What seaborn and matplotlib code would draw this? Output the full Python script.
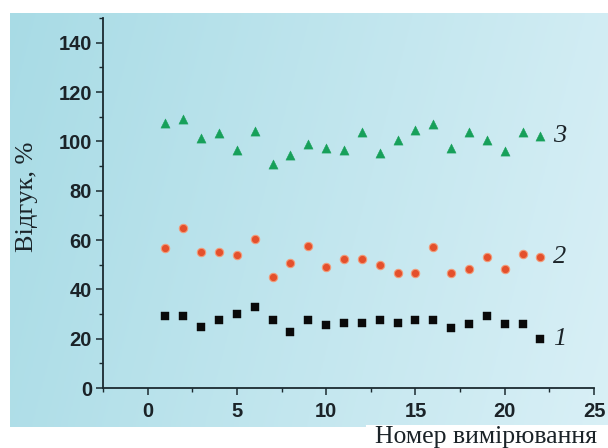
import numpy as np
import pandas as pd
import matplotlib
matplotlib.use("Agg")
import matplotlib.pyplot as plt
import seaborn as sns
from matplotlib.ticker import MultipleLocator

# ---- data ----
x = list(range(1, 23))
series1 = [29.2, 29.2, 24.9, 27.5, 30.0, 32.9, 27.5, 22.9, 27.5, 25.6, 26.5,
           26.5, 27.5, 26.5, 27.5, 27.5, 24.5, 26.1, 29.2, 26.1, 26.1, 19.8]
series2 = [56.8, 64.8, 55.1, 55.1, 54.1, 60.3, 45.2, 50.6, 57.6, 49.2, 52.2,
           52.2, 49.9, 46.7, 46.7, 57.3, 46.7, 48.3, 53.0, 48.3, 54.5, 53.0]
series3 = [107.4, 109.2, 101.3, 103.3, 96.3, 104.3, 90.9, 94.3, 98.9, 97.3, 96.3,
           103.7, 95.2, 100.4, 104.4, 107.0, 97.3, 103.7, 100.6, 95.9, 103.7, 102.3]
series_labels = ["1", "2", "3"]
x_ticks = [0, 5, 10, 15, 20, 25]
y_ticks = [0, 20, 40, 60, 80, 100, 120, 140]
y_label = "Відгук, %"
x_label = "Номер вимірювання"

df = pd.DataFrame({"x": x, "s1": series1, "s2": series2, "s3": series3})

sns.set_style("ticks")
plt.rcParams["font.family"] = ["Liberation Sans", "DejaVu Sans"]

W, H = 608, 448
fig = plt.figure(figsize=(W / 100, H / 100), dpi=100)
fig.patch.set_facecolor("white")

# background panel with gradient
bg = fig.add_axes([10 / W, 1 - 427 / H, (W - 10) / W, (427 - 13) / H])
bg.set_axis_off()
gx = np.linspace(0, 1, 256)
gy = np.linspace(0, 1, 64)
GX, GY = np.meshgrid(gx, gy)
c_left = np.array([0.66, 0.86, 0.90])
c_right = np.array([0.85, 0.94, 0.965])
t = np.clip(GX * 0.85 + GY * 0.15, 0, 1)[..., None]
img = c_left * (1 - t) + c_right * t
bg.imshow(img, aspect="auto", extent=[0, 1, 0, 1], origin="upper")
bg.set_xlim(0, 1)
bg.set_ylim(0, 1)

# white box for x label
fig.patches.append(matplotlib.patches.Rectangle((366 / W, 0), 1 - 366 / W, 1 - 425 / H,
                                                transform=fig.transFigure,
                                                facecolor="white", edgecolor="none", zorder=5))

ax = fig.add_axes([103 / W, 1 - 388 / H, (594 - 103) / W, (388 - 18) / H])
ax.set_facecolor("none")

sns.scatterplot(data=df, x="x", y="s1", marker="s", s=26, color="#0a0a0a",
                edgecolor="#0a0a0a", linewidth=0.3, ax=ax, zorder=3)
sns.scatterplot(data=df, x="x", y="s2", marker="o", s=36, color="#e4502c",
                edgecolor="#f29a78", linewidth=0.8, ax=ax, zorder=3)
sns.scatterplot(data=df, x="x", y="s3", marker="^", s=44, color="#17a05a",
                edgecolor="#17a05a", linewidth=0.3, ax=ax, zorder=3)

ax.set_xlim(-2.5, 25)
ax.set_ylim(0, 150)
ax.set_xticks(x_ticks)
ax.set_yticks(y_ticks)
ax.xaxis.set_minor_locator(MultipleLocator(2.5))
ax.yaxis.set_minor_locator(MultipleLocator(10))
for s in ["top", "right"]:
    ax.spines[s].set_visible(False)
axis_col = "#1b2a30"
for s in ["left", "bottom"]:
    ax.spines[s].set_color(axis_col)
    ax.spines[s].set_linewidth(1.3)
ax.tick_params(axis="both", which="major", length=5, width=1.1, color=axis_col,
               labelsize=14.5, labelcolor="#1b2328", direction="out", pad=3)
ax.tick_params(axis="x", which="major", pad=5)
ax.tick_params(axis="both", which="minor", length=3, width=1.0, color=axis_col,
               direction="out")
for lab in ax.get_xticklabels() + ax.get_yticklabels():
    lab.set_fontweight("bold")
ax.set_xlabel("")
ax.set_ylabel("")

serif = ["Liberation Serif", "DejaVu Serif"]
fig.text(27 / W, 1 - 197 / H, y_label, rotation=90, ha="center", va="center",
         fontsize=19, family=serif, color="#1b2328")
fig.text(486 / W, 1 - 437 / H, x_label, ha="center", va="center",
         fontsize=18.5, family=serif, color="#1b2328", zorder=6)

label_y = [series1[-1], series2[-1], series3[-1]]
for lab, yv in zip(series_labels, label_y):
    ax.annotate(lab, xy=(22, yv), xytext=(9, 0), textcoords="offset points",
                ha="left", va="center", fontsize=19, style="italic",
                family=serif, color="#1b2328")

fig.savefig("out.png", dpi=100)
